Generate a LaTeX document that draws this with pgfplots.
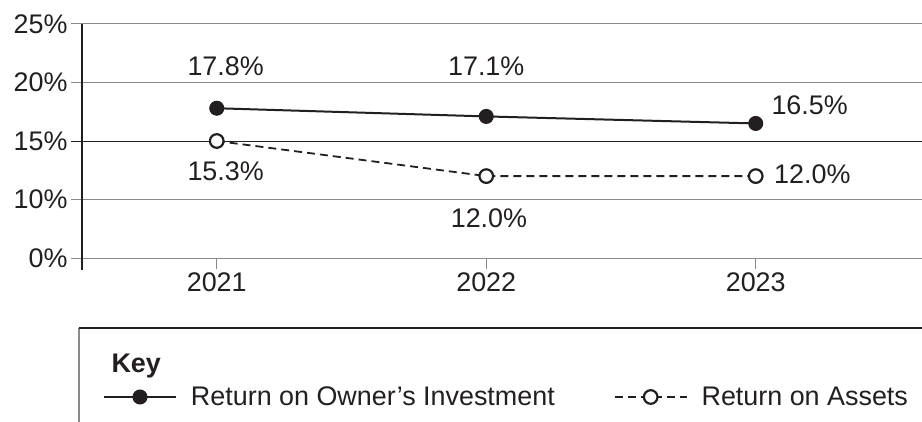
\documentclass[border=0pt]{standalone}
\usepackage{pgfplots}
\pgfplotsset{compat=1.18}
\usepackage{fontspec}
\setmainfont{Liberation Sans}
\definecolor{ink}{HTML}{231F20}
\definecolor{gridgray}{HTML}{8A8A8A}
\begin{document}
\begin{tikzpicture}[x=1bp,y=1bp,font=\fontsize{27}{32}\selectfont]
\useasboundingbox (0,0) rectangle (922,421);
\clip (0,0) rectangle (922,421);
\begin{axis}[
  at={(82bp,163bp)}, anchor=south west,
  scale only axis, width=840bp, height=234bp,
  clip=false,
  xmin=2020.5, xmax=2023.617, ymin=5, ymax=25,
  xtick={2021,2022,2023}, xticklabels={2021,2022,2023},
  ytick={5,10,20,25}, yticklabels={0\%,10\%,20\%,25\%},
  extra y ticks={15}, extra y tick labels={15\%},
  extra y tick style={grid=major, tick style={ink, line width=1bp}, major grid style={ink, line width=1bp}},
  ymajorgrids, major grid style={gridgray, line width=1bp},
  axis line style={draw=none},
  tick align=outside, xtick pos=bottom, ytick pos=left,
  major tick length=11bp,
  tick style={gridgray, line width=1bp},
  tick label style={text=ink},
  /pgf/number format/assume math mode=true,
  legend columns=2,
  legend cell align=left,
  legend image code/.code={\draw[mark repeat=2,mark phase=2,#1] plot coordinates {(0bp,0bp) (36bp,0bp) (72bp,0bp)};},
  legend style={draw=none, fill=none, at={(axis description cs:0.025,-0.594)}, anchor=west,
    inner sep=0pt, outer sep=0pt, nodes={inner sep=0pt, text=ink},
    /tikz/every odd column/.append style={column sep=14bp},
    /tikz/every even column/.append style={column sep=59bp}},
]
\addplot[ink, line width=2bp, mark=*, mark size=7bp, mark options={fill=ink, draw=ink, line width=1bp}]
  coordinates {(2021,17.8) (2022,17.1) (2023,16.5)};
\addplot[ink, line width=1.8bp, dash pattern=on 8bp off 5bp, mark=*, mark size=6.8bp, mark options={solid, fill=white, draw=ink, line width=2.2bp}]
  coordinates {(2021,15.0) (2022,12.0) (2023,12.0)};
\legend{Return on Owner’s Investment, Return on Assets}
\draw[ink, line width=1.5bp] (rel axis cs:0,1) -- (rel axis cs:0,0) -- ++(0bp,-12bp);
\node[text=ink] at (axis cs:2021.033,21.35) {17.8\%};
\node[text=ink] at (axis cs:2022,21.35) {17.1\%};
\node[text=ink] at (axis cs:2023.2,18.02) {16.5\%};
\node[text=ink] at (axis cs:2021.033,12.38) {15.3\%};
\node[text=ink] at (axis cs:2022.01,8.36) {12.0\%};
\node[text=ink] at (axis cs:2023.21,12.12) {12.0\%};
\end{axis}
\draw[gridgray, line width=1.2bp] (79,-10) -- (79,93);
\draw[ink, line width=1.5bp] (79,93) -- (940,93);
\node[anchor=base west, text=ink, font=\fontsize{27}{32}\selectfont\bfseries] at (108,49) {Key};
\end{tikzpicture}
\end{document}
